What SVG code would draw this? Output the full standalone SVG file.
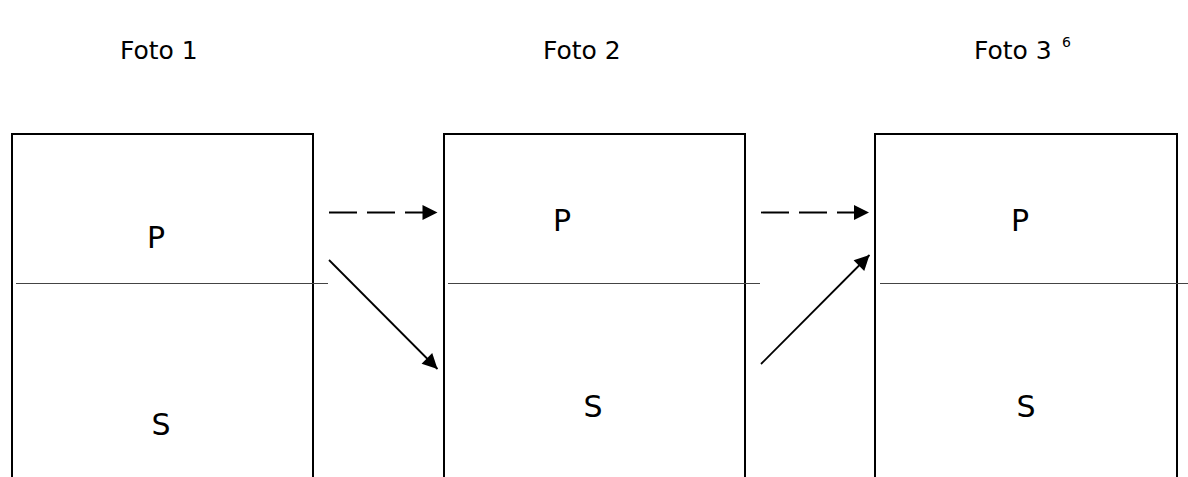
<svg xmlns="http://www.w3.org/2000/svg" width="1188" height="477" viewBox="0 0 1188 477">
<style>
text{font-family:"DejaVu Sans",Verdana,sans-serif;fill:#000;font-size:25px}
.lbl{font-size:30px}
.box{fill:none;stroke:#000;stroke-width:2}
.div{stroke:#444;stroke-width:1.2}
.arr{stroke:#000;stroke-width:1.8;fill:none;marker-end:url(#ah)}
.dash{stroke-dasharray:28 10}
</style>
<defs>
<marker id="ah" viewBox="0 0 10 10" refX="10" refY="5" markerWidth="16" markerHeight="15" markerUnits="userSpaceOnUse" orient="auto">
<path d="M0,0 L10,5 L0,10 Z" fill="#000"/>
</marker>
</defs>
<rect width="1188" height="477" fill="#fff"/>
<g id="titles">
<text x="120" y="59">Foto 1</text>
<text x="543" y="59">Foto 2</text>
<text x="974" y="59">Foto 3</text>
<text x="1062" y="47" style="font-size:14px">6</text>
</g>
<g id="foto1">
<path class="box" d="M12,477 V134 H313 V477"/>
<line class="div" x1="16" y1="283.5" x2="328" y2="283.5"/>
<text class="lbl" x="156" y="248" text-anchor="middle">P</text>
<text class="lbl" x="161" y="435" text-anchor="middle">S</text>
</g>
<g id="foto2">
<path class="box" d="M444,477 V134 H745 V477"/>
<line class="div" x1="448" y1="283.5" x2="760" y2="283.5"/>
<text class="lbl" x="562" y="231" text-anchor="middle">P</text>
<text class="lbl" x="593" y="417" text-anchor="middle">S</text>
</g>
<g id="foto3">
<path class="box" d="M875,477 V134 H1177 V477"/>
<line class="div" x1="880" y1="283.5" x2="1188" y2="283.5"/>
<text class="lbl" x="1020" y="231" text-anchor="middle">P</text>
<text class="lbl" x="1026" y="417" text-anchor="middle">S</text>
</g>
<g id="connectors">
<line class="arr dash" x1="329" y1="212.5" x2="437.5" y2="212.5"/>
<line class="arr" x1="329" y1="260" x2="437.5" y2="369"/>
<line class="arr dash" x1="761" y1="212.5" x2="869" y2="212.5"/>
<line class="arr" x1="761" y1="364" x2="869.5" y2="255"/>
</g>
</svg>
